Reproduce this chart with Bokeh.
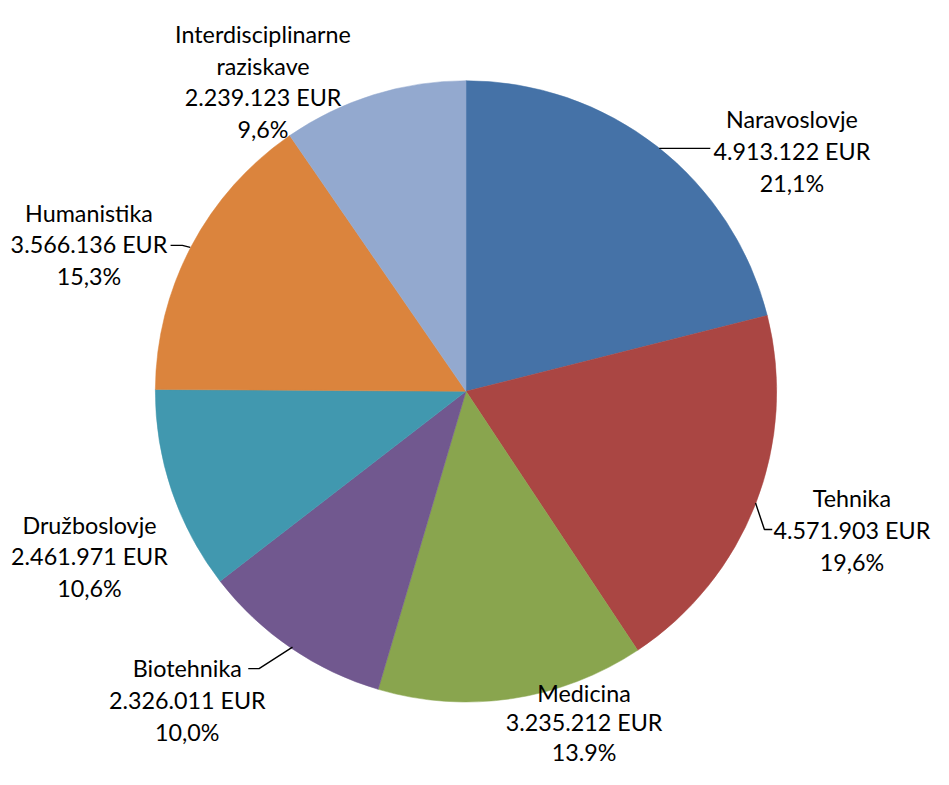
import math
from bokeh.plotting import figure
from bokeh.models import ColumnDataSource, Range1d
from bokeh.core.properties import value
from bokeh.embed import file_html
from bokeh.resources import INLINE

# ---- data ----
categories = ["Naravoslovje", "Tehnika", "Medicina", "Biotehnika",
              "Družboslovje", "Humanistika", "Interdisciplinarne raziskave"]
amounts_eur = [4913122, 4571903, 3235212, 2326011, 2461971, 3566136, 2239123]
percent_labels = ["21,1%", "19,6%", "13.9%", "10,0%", "10,6%", "15,3%", "9,6%"]
colors = ["#4572A7", "#AA4643", "#89A54E", "#71588F", "#4198AF", "#DB843D", "#93A9CF"]

# ---- layout (coordinates of the 949x785 reference frame) ----
W, H = 949, 785
CX, CY, R = 473.5, 399, 316
label_pos = [(805, 121), (866, 508), (593.5, 707), (190, 681.5),
             (90.5, 535), (90, 216.5), (267, 34)]
LINE_STEP = [32.5, 32.5, 30.0, 32.5, 32.5, 32.5, 32.5]
leaders = [
    [(670, 151), (722, 151)],
    [(768, 513), (777, 540), (785, 540)],
    [],
    [(297, 660), (263, 682), (252, 682)],
    [],
    [(193, 252), (185, 250), (173, 250)],
    [],
]

def fy(py):
    return H - py

total = float(sum(amounts_eur))
starts, ends = [], []
acc = 0.0
for v in amounts_eur:
    starts.append(math.pi / 2 - 2 * math.pi * acc / total)
    acc += v
    ends.append(math.pi / 2 - 2 * math.pi * acc / total)

p = figure(width=933, height=769, output_backend="svg", toolbar_location=None,
           x_range=Range1d(0, W), y_range=Range1d(0, H), min_border=0)
p.axis.visible = False
p.grid.visible = False
p.outline_line_color = None
p.background_fill_color = "white"
p.border_fill_color = "white"

src = ColumnDataSource(dict(start=starts, end=ends, color=colors))
p.wedge(x=CX, y=fy(CY), radius=R, start_angle="start", end_angle="end",
        direction="clock", fill_color="color", line_color="color",
        line_width=0.5, source=src)

# leader lines
lx, ly = [], []
for pts in leaders:
    if pts:
        lx.append([a for a, b in pts])
        ly.append([fy(b) for a, b in pts])
p.multi_line(xs=lx, ys=ly, line_color="black", line_width=1.4)

# labels
tx, ty, tt = [], [], []
for name, amt, pct, (x0, y0), step in zip(categories, amounts_eur, percent_labels,
                                          label_pos, LINE_STEP):
    name_lines = name.split(" ") if len(name) > 20 else [name]
    lines = name_lines + [f"{amt:,}".replace(",", ".") + " EUR", pct]
    for k, s in enumerate(lines):
        tx.append(x0)
        ty.append(fy(y0 + k * step))
        tt.append(s)
p.text(x=tx, y=ty, text=tt, text_align="center", text_baseline="alphabetic",
       text_font=value("Lato"), text_font_size="23.3px", text_color="#000000")

open("out.html", "w").write(file_html(p, INLINE))
